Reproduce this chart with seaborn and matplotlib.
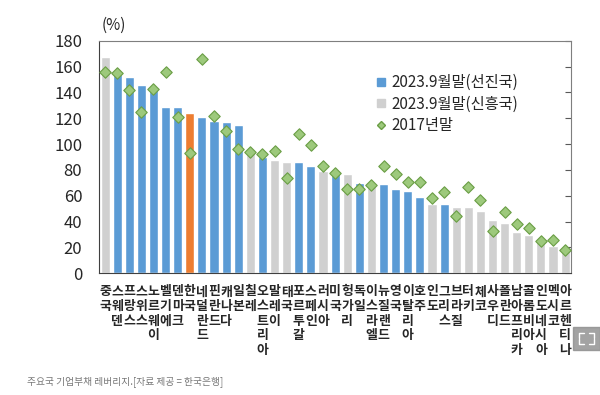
import numpy as np
import pandas as pd
import matplotlib.pyplot as plt
import seaborn as sns
from matplotlib.lines import Line2D
from matplotlib.patches import Rectangle

# data
countries = ['중국', '스웨덴', '프랑스', '스위스', '노르웨이', '벨기에', '덴마크', '한국',
             '네덜란드', '핀란드', '캐나다', '일본', '칠레', '오스트리아', '말레이', '태국',
             '포르투갈', '스페인', '러시아', '미국', '헝가리', '독일', '이스라엘', '뉴질랜드',
             '영국', '이탈리아', '호주', '인도', '그리스', '브라질', '터키', '체코', '사우디',
             '폴란드', '남아프리카', '콜롬비아', '인도네시아', '멕시코', '아르헨티나']
groups = ['신흥국', '선진국', '선진국', '선진국', '선진국', '선진국', '선진국', '한국',
          '선진국', '선진국', '선진국', '선진국', '신흥국', '선진국', '신흥국', '신흥국',
          '선진국', '선진국', '신흥국', '선진국', '신흥국', '선진국', '신흥국', '선진국',
          '선진국', '선진국', '선진국', '신흥국', '선진국', '신흥국', '신흥국', '신흥국', '신흥국',
          '신흥국', '신흥국', '신흥국', '신흥국', '신흥국', '신흥국']
lev_2023 = [167, 154, 152, 146, 143, 129, 129, 124, 121, 118, 117, 115, 93, 90, 88, 86,
            86, 83, 79, 77, 77, 70, 68, 69, 65, 64, 59, 54, 54, 51, 51, 48, 41,
            39, 32, 30, 25, 21, 19]
lev_2017 = [156, 155, 142, 125, 143, 156, 121, 93, 166, 122, 110, 96, 94, 92, 95, 74,
            108, 99, 83, 77.5, 65, 65, 68, 83, 77, 71, 71, 58, 63, 44, 67, 57, 33,
            47.5, 38, 35, 25, 26, 18]
yticks = list(range(0, 181, 20))

df = pd.DataFrame({'국가': countries, '구분': groups, '2023': lev_2023, '2017': lev_2017})

sns.set_style('white')
plt.rcParams['font.family'] = ['Noto Sans CJK KR', 'DejaVu Sans']

blue, gray, orange = '#5b9bd5', '#d0d0d0', '#ed7d31'
pal = {'선진국': blue, '신흥국': gray, '한국': orange}

fig = plt.figure(figsize=(6, 3.95), dpi=100)
ax = fig.add_axes([0.165, 0.308, 0.787, 0.589])

sns.barplot(data=df, x='국가', y='2023', hue='구분', palette=pal, dodge=False,
            width=0.75, saturation=1, legend=False, ax=ax)
sns.scatterplot(data=df, x='국가', y='2017', marker='D', s=34, color='#9dc97c',
                edgecolor='#6a9e45', linewidth=0.8, zorder=3, legend=False, ax=ax)

ax.set_xlim(-0.45, len(countries) - 0.55)
ax.set_ylim(0, 180)
ax.set_yticks(yticks)
ax.set_xlabel('')
ax.set_ylabel('')
ax.tick_params(axis='y', direction='in', length=4, labelsize=12, pad=12,
               right=True, color='#595959')

ax.set_xticks(range(len(countries)))
ax.set_xticklabels(['\n'.join(c) for c in countries], fontsize=9.3, fontweight='bold',
                   linespacing=1.05, va='top')
ax.set_xticks(np.arange(-0.5, len(countries), 1), minor=True)
ax.tick_params(axis='x', which='major', length=0, pad=8)
ax.tick_params(axis='x', which='minor', direction='in', length=3, color='#595959')

for s in ['left', 'bottom']:
    ax.spines[s].set_color('#404040')
for s in ['top', 'right']:
    ax.spines[s].set_color('#7f7f7f')

ax.text(0.032, 1.067, '(%)', transform=ax.transAxes, fontsize=11,
        ha='center', va='center')

handles = [Line2D([], [], marker='s', ls='', color=blue, ms=6),
           Line2D([], [], marker='s', ls='', color=gray, ms=6),
           Line2D([], [], marker='D', ls='', color='#9dc97c', mec='#6a9e45', ms=4)]
ax.legend(handles, ['2023.9월말(선진국)', '2023.9월말(신흥국)', '2017년말'],
          loc='upper left', bbox_to_anchor=(0.57, 0.89), frameon=False, fontsize=11,
          handlelength=0.7, handletextpad=0.3, labelspacing=0.3, borderpad=0)

fig.text(0.045, 0.034, '주요국 기업부채 레버리지.[자료 제공 = 한국은행]',
         fontsize=7, color='#777777', va='center')

# fullscreen button overlay
fig.patches.append(Rectangle((0.955, 0.114), 0.045, 0.058, transform=fig.transFigure,
                             color='#8c8c8c', alpha=0.8, zorder=5))
for (x0, y0, dx, dy) in [(0.965, 0.130, 1, 1), (0.990, 0.130, -1, 1),
                         (0.965, 0.157, 1, -1), (0.990, 0.157, -1, -1)]:
    fig.lines.append(Line2D([x0 + 0.008 * dx, x0, x0], [y0, y0, y0 + 0.012 * dy],
                            transform=fig.transFigure, color='white', lw=1, zorder=6))

plt.savefig('out.png', dpi=100)
